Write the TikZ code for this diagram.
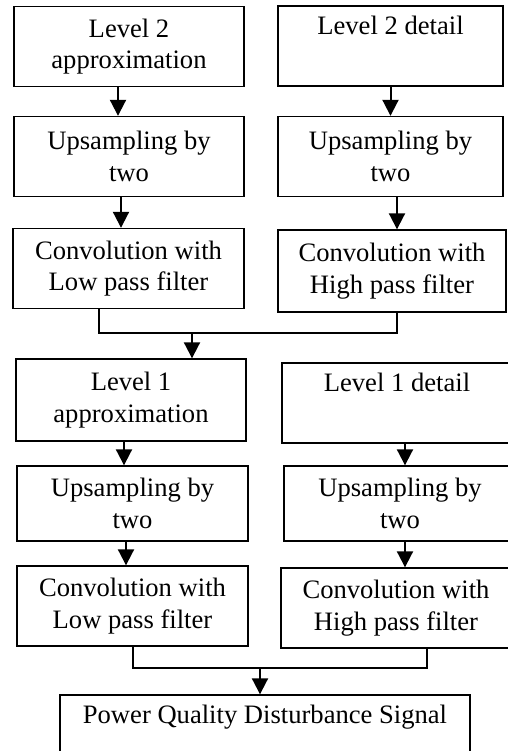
\documentclass[tikz,border=0pt]{standalone}
\usepackage{fontspec}
\setmainfont{Liberation Serif}
\usetikzlibrary{arrows.meta,positioning}

\tikzset{
  blk/.style={draw, line width=0.7pt, align=center, minimum height=40pt, inner sep=2pt,
    font=\fontsize{13.3}{15.8}\selectfont},
  arr/.style={-{Triangle[length=8pt,width=8pt]}, line width=1pt},
  lnk/.style={line width=1pt},
}

\begin{document}
\begin{tikzpicture}[x=0.5pt, y=-0.5pt]
    \useasboundingbox (0,0) rectangle (508,751);
    \clip (0,0) rectangle (508,751);
    % level 2
    \node[blk, minimum width=115pt] (l2a) at (129,46.5) {Level 2\\approximation};
    \node[blk, minimum width=112.5pt] (l2d) at (390.5,46) {Level 2 detail\\\strut};
    \node[blk, minimum width=115pt] (upa2) at (129,156.5) {Upsampling by\\two};
    \node[blk, minimum width=112.5pt] (upd2) at (390.5,156.5) {Upsampling by\\two};
    \node[blk, minimum width=115.5pt] (lpf2) at (128.5,268.5) {Convolution with\\Low pass filter};
    \node[blk, minimum width=114pt, minimum height=41pt] (hpf2) at (392,271) {Convolution with\\High pass filter};
    % level 1
    \node[blk, minimum width=115pt, minimum height=41pt] (l1a) at (131,400) {Level 1\\approximation};
    \node[blk, minimum width=115pt] (l1d) at (397,403) {Level 1 detail\\\strut};
    \node[blk, minimum width=115.5pt, minimum height=37.5pt] (upa1) at (132.5,503.5) {Upsampling by\\two};
    \node[blk, minimum width=116pt, minimum height=37.5pt] (upd1) at (400,503.5) {Upsampling by\\two};
    \node[blk, minimum width=115.5pt] (lpf1) at (132.5,606) {Convolution with\\Low pass filter};
    \node[blk, minimum width=115pt] (hpf1) at (396,608) {Convolution with\\High pass filter};
    % output
    \node[blk, minimum width=205pt] (pqd) at (265,735) {Power Quality Disturbance Signal\\\strut};

    \draw[arr] ([xshift=-5.5pt]l2a.south) -- ([xshift=-5.5pt]l2a.south |- upa2.north);
    \draw[arr] ([xshift=-4pt]upa2.south) -- ([xshift=-4pt]upa2.south |- lpf2.north);
    \draw[arr] (l2d.south) -- (l2d.south |- upd2.north);
    \draw[arr] ([xshift=3.25pt]upd2.south) -- ([xshift=3.25pt]upd2.south |- hpf2.north);

    \coordinate (j2) at (192,333);
    \draw[lnk] ([xshift=-14.75pt]lpf2.south) |- (j2) -| ([xshift=2.5pt]hpf2.south);
    \draw[arr] (j2) -- (j2 |- l1a.north);

    \draw[arr] ([xshift=-3.5pt]l1a.south) -- ([xshift=-3.5pt]l1a.south |- upa1.north);
    \draw[arr] ([xshift=-3.25pt]upa1.south) -- ([xshift=-3.25pt]upa1.south |- lpf1.north);
    \draw[arr] ([xshift=4pt]l1d.south) -- ([xshift=4pt]l1d.south |- upd1.north);
    \draw[arr] ([xshift=2.5pt]upd1.south) -- ([xshift=2.5pt]upd1.south |- hpf1.north);

    \coordinate (j1) at (260,668);
    \draw[lnk] (lpf1.south) |- (j1) -| ([xshift=15.5pt]hpf1.south);
    \draw[arr] (j1) -- (j1 |- pqd.north);
\end{tikzpicture}
\end{document}
